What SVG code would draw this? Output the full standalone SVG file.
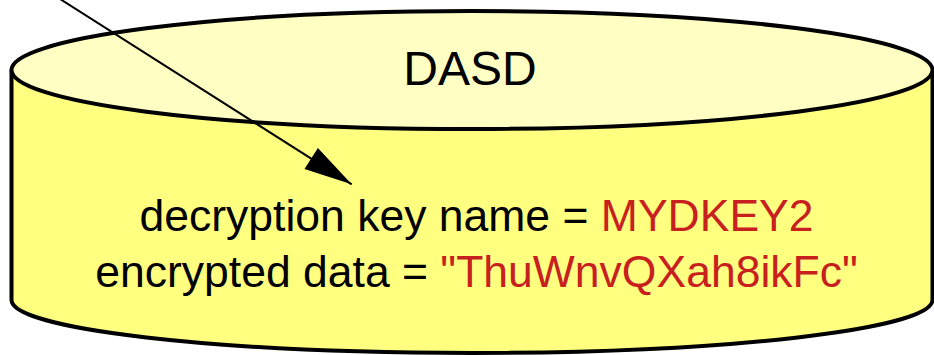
<svg xmlns="http://www.w3.org/2000/svg" width="934" height="355" viewBox="0 0 934 355">
  <style>
    .outline { stroke: #000; stroke-width: 4; stroke-linejoin: round; }
    .body { fill: #FFFF80; }
    .lid { fill: #FFFFC4; }
    .label { font-family: "Liberation Sans", Arial, sans-serif; fill: #000; text-anchor: middle; }
    .value { fill: #C8201E; }
    .connector { stroke: #000; stroke-width: 2; fill: none; }
  </style>
  <defs>
    <marker id="arrowhead" markerUnits="userSpaceOnUse" orient="auto" overflow="visible" markerWidth="1" markerHeight="1" refX="0" refY="0">
      <path d="M0,0 L-48,-12.5 L-48,12.5 Z" fill="#000"/>
    </marker>
  </defs>

  <!-- DASD storage cylinder -->
  <g id="dasd">
    <path class="outline body" d="M11.5,71 L11.5,300 A460.5,53 0 0 0 932.5,300 L932.5,71 Z"/>
    <ellipse class="outline lid" cx="472" cy="70" rx="460.5" ry="59"/>
    <text class="label" x="470" y="85" font-size="48">DASD</text>
    <text class="label" x="476.5" y="231" font-size="44.5">decryption key name = <tspan class="value">MYDKEY2</tspan></text>
    <text class="label" x="476.5" y="287" font-size="44.5">encrypted data = <tspan class="value">"ThuWnvQXah8ikFc"</tspan></text>
  </g>

  <!-- incoming reference arrow -->
  <g id="connectors">
    <line class="connector" x1="58.5" y1="-2" x2="351.7" y2="184.3" marker-end="url(#arrowhead)"/>
  </g>
</svg>
